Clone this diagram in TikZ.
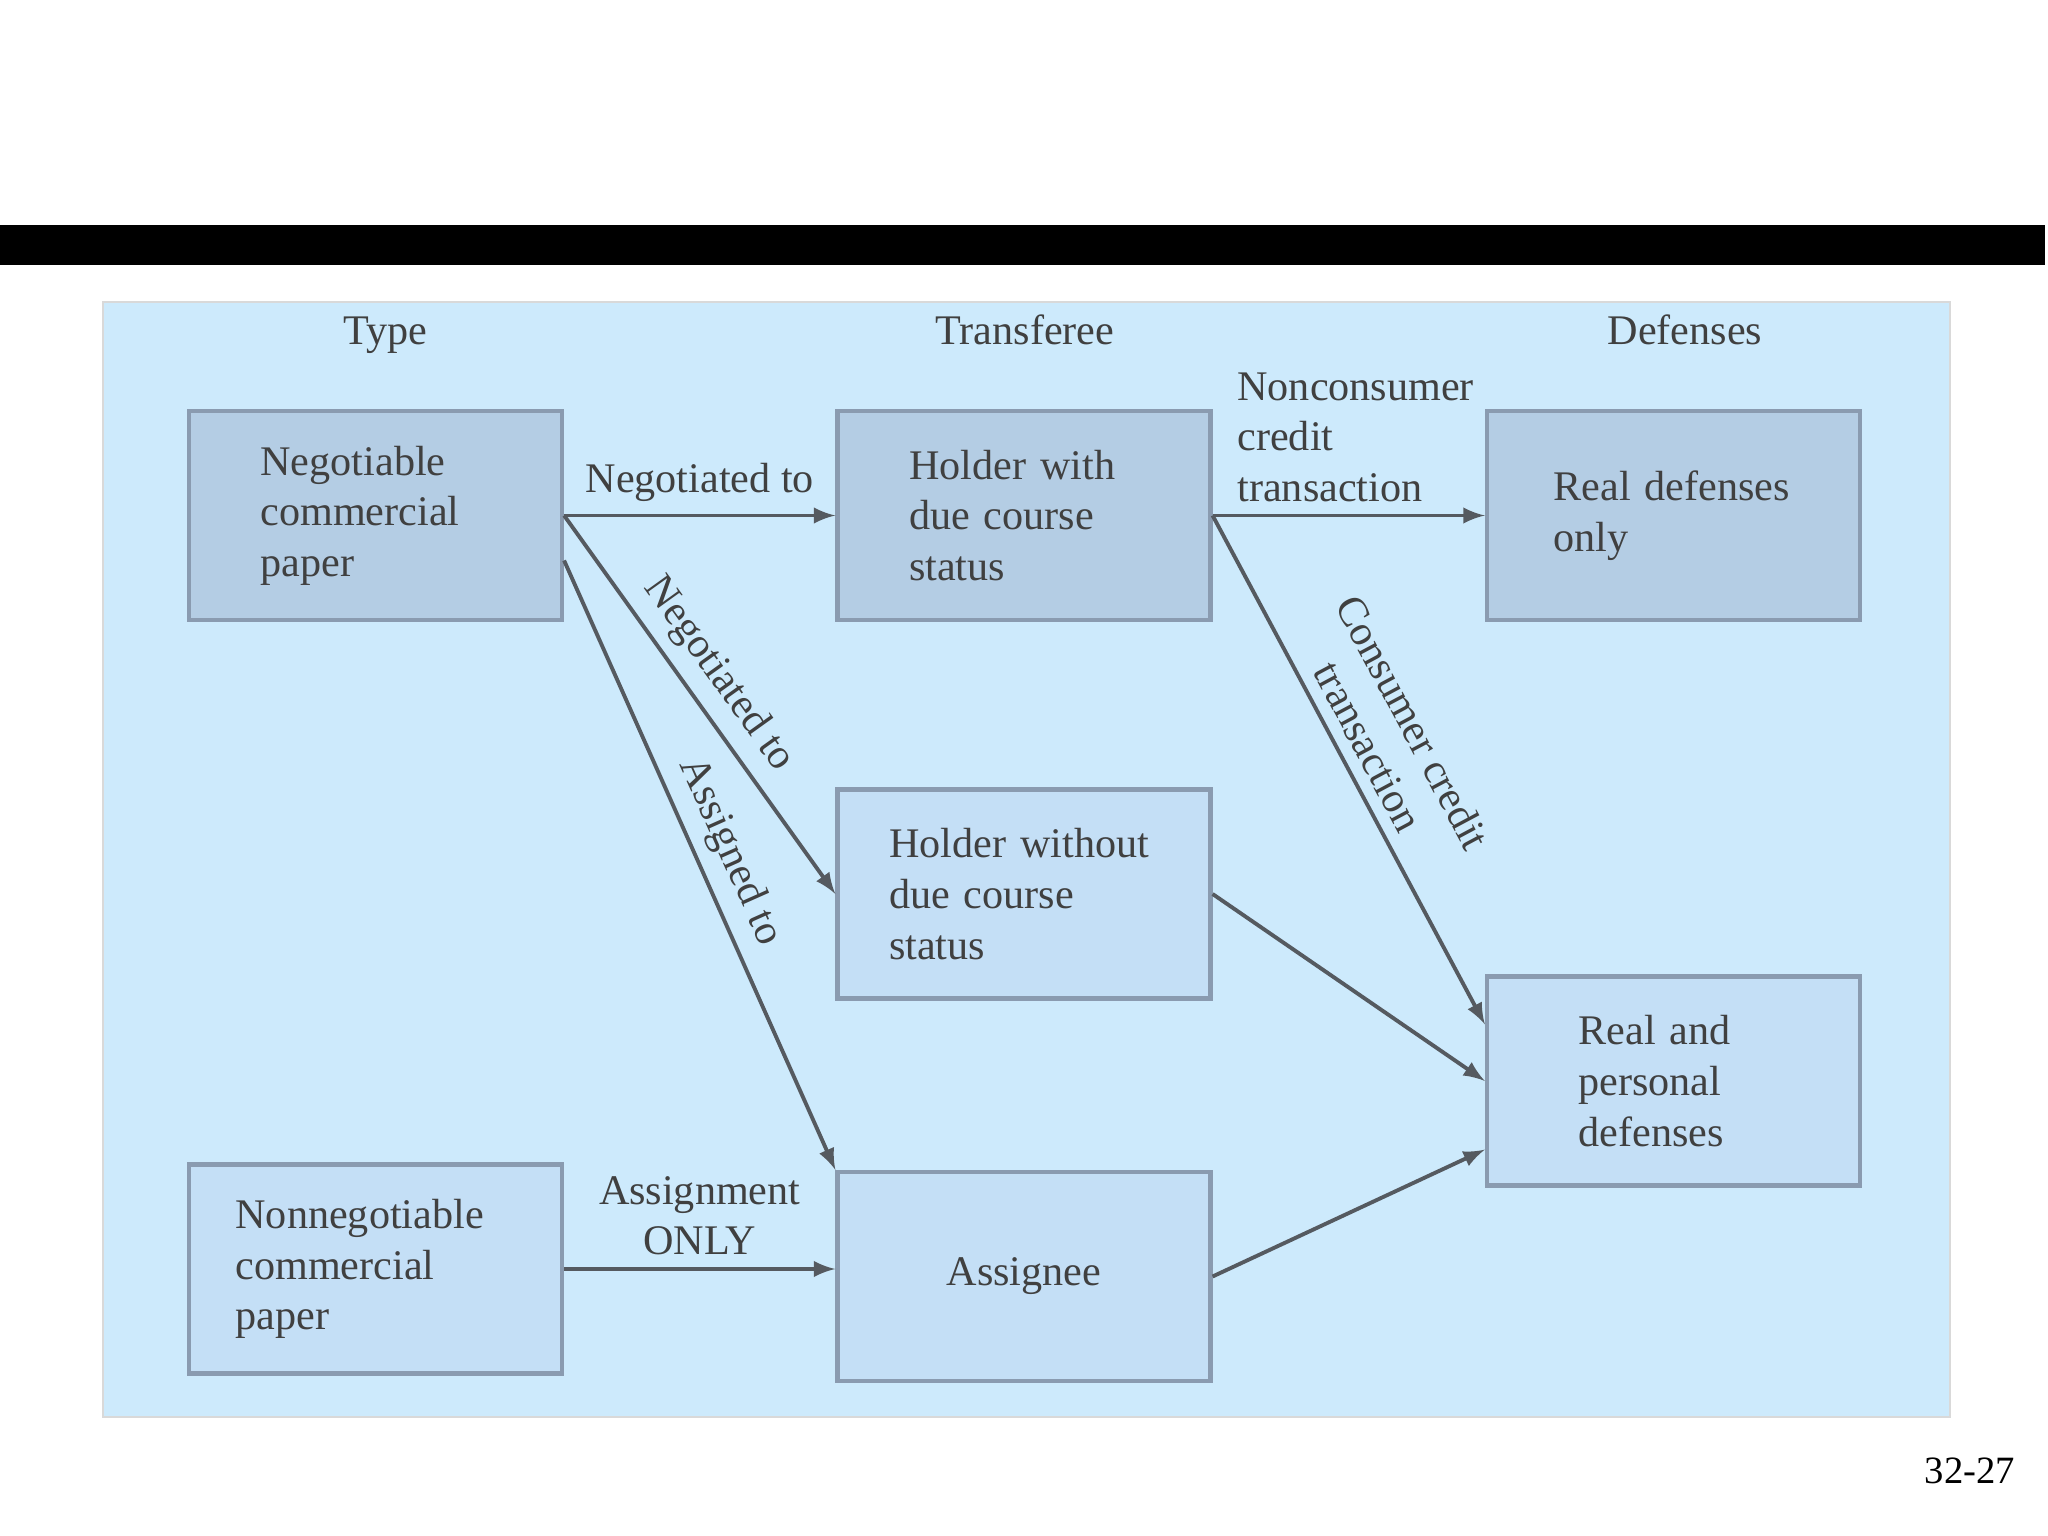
\documentclass[tikz,border=0pt]{standalone}
\usepackage{fontspec}
\setmainfont{Liberation Serif}
\usetikzlibrary{positioning}
\definecolor{panel}{HTML}{CDEAFC}
\definecolor{boxdark}{HTML}{B4CDE4}
\definecolor{boxlight}{HTML}{C4DFF6}
\definecolor{rim}{HTML}{8A9BB0}
\definecolor{arr}{HTML}{555A60}
\tikzset{
  bx/.style={draw=rim, line width=1.2pt, rectangle, minimum width=3.73cm, minimum height=2.09cm,
    text width=2.3cm, align=left, font=\fontsize{12}{14.4}\selectfont, text=black!75},
  hd/.style={font=\fontsize{12}{14}\selectfont, text=black!75, anchor=base},
  lb/.style={font=\fontsize{12}{14.4}\selectfont, text=black!75},
  ar/.style={->, draw=arr, line width=1.1pt, >=latex}
}
\begin{document}
\begin{tikzpicture}[x=1cm,y=-1cm]
  \useasboundingbox (0,0) rectangle (20.48,15.36);
  \fill[white] (0,0) rectangle (20.48,15.36);
  \fill[black] (0,2.25) rectangle (20.45,2.65);
  \fill[panel] (1.03,3.02) rectangle (19.50,14.17);
  \draw[black!15] (1.03,3.02) rectangle (19.50,14.17);

  % column heads
  \node[hd] (type) at (3.85,3.45) {Type};
  \node[hd] (trans) at (10.25,3.45) {Transferee};
  \node[hd] (defs) at (16.85,3.45) {Defenses};

  % boxes
  \node[bx, fill=boxdark] (ncp) at (3.755,5.155) {Negotiable\\commercial\\paper};
  \node[bx, fill=boxdark] (hw) at (10.24,5.155) {Holder with\\due course\\status};
  \node[bx, fill=boxdark, text width=2.4cm] (rd) at (16.735,5.155) {Real defenses\\only};
  \node[bx, fill=boxlight, text width=2.7cm] (hwo) at (10.24,8.94) {Holder without\\due course\\status};
  \node[bx, fill=boxlight, text width=1.9cm] (rp) at (16.735,10.81) {Real and\\personal\\defenses};
  \node[bx, fill=boxlight, text width=2.8cm] (nn) at (3.755,12.69) {Nonnegotiable\\commercial\\paper};
  \node[bx, fill=boxlight, align=center] (asg) at (10.24,12.765) {Assignee};

  % connectors
  \draw[ar] (ncp.east) -- node[lb, above] {Negotiated to} (hw.west);
  \draw[ar] (ncp.east) -- node[lb, sloped, above, pos=0.47] {Negotiated to} (hwo.west);
  \draw[ar] ([yshift=-0.45cm]ncp.east) -- node[lb, sloped, above, pos=0.5] {Assigned to} (asg.north west);
  \draw[ar] (hw.east) -- (rd.west);
  \node[lb, align=left, anchor=north west] (ncct) at (12.25,3.6) {Nonconsumer\\credit\\transaction};
  \draw[ar] (hw.east) -- node[lb, sloped, above, align=center, pos=0.48] {Consumer credit\\transaction} ([yshift=-0.5cm]rp.north west);
  \draw[ar] (hwo.east) -- (rp.west);
  \draw[ar] (asg.east) -- ([yshift=0.38cm]rp.south west);
  \draw[ar] (nn.east) -- node[lb, above, align=center] {Assignment\\ONLY} (asg.west |- nn.east);

  \node[font=\fontsize{11}{13}\selectfont] (pg) at (19.70,14.71) {32-27};
\end{tikzpicture}
\end{document}
